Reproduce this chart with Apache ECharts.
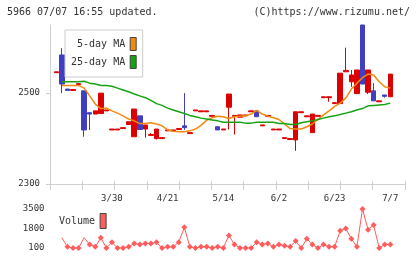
<!DOCTYPE html>
<html>
<head>
<meta charset="utf-8">
<script src="https://cdn.jsdelivr.net/npm/echarts@6/dist/echarts.min.js"></script>
<style>
  html, body { margin: 0; padding: 0; background: #fff; }
  #chart { width: 420px; height: 259px; }
</style>
</head>
<body>
<div id="chart"></div>
<script>
// trading days shown (only labelled every 10th)
const dates = [
  '3/13','3/16','3/17','3/18','3/19','3/23','3/24','3/25','3/26','3/27',
  '3/30','3/31','4/2','4/3','4/6','4/8','4/10','4/14','4/15','4/17',
  '4/21','4/22','4/24','4/27','4/28','4/30','5/1','5/7','5/8','5/12',
  '5/14','5/15','5/18','5/19','5/20','5/22','5/25','5/26','5/28','5/29',
  '6/2','6/3','6/5','6/8','6/10','6/11','6/15','6/17','6/18','6/22',
  '6/23','6/24','6/25','6/26','6/29','6/30','7/1','7/2','7/3','7/6','7/7'
];
const open = [
  2545,2584,2509,2506,2519,2505,2457,2454,2455,2461,
  2419,2419,2422,2431,2404,2450,2421,2407,2400,2400,
  2417,2417,2420,2428,2411,2461,2459,2459,2449,2426,
  2419,2469,2449,2447,2450,2459,2461,2428,2449,2419,
  2419,2400,2398,2397,2457,2448,2413,2449,2490,2490,
  2477,2477,2547,2525,2499,2650,2502,2505,2481,2496,2492
];
const close = [
  2547,2520,2506,2508,2521,2419,2454,2461,2500,2463,
  2421,2421,2424,2437,2465,2420,2430,2409,2421,2402,
  2419,2419,2422,2424,2413,2463,2461,2461,2451,2419,
  2421,2498,2451,2452,2452,2461,2448,2430,2451,2421,
  2421,2402,2400,2459,2459,2450,2454,2451,2492,2492,
  2479,2544,2550,2540,2551,2520,2551,2483,2483,2493,2542
];
const low = [
  2545,2500,2506,2506,2519,2404,2419,2454,2455,2461,
  2419,2419,2422,2431,2404,2420,2402,2407,2398,2400,
  2417,2417,2420,2419,2411,2461,2459,2459,2449,2419,
  2419,2420,2409,2447,2450,2459,2448,2428,2449,2419,
  2419,2400,2398,2373,2457,2448,2413,2449,2490,2481,
  2477,2477,2547,2514,2499,2520,2498,2483,2481,2490,2492
];
const high = [
  2547,2599,2509,2508,2521,2505,2457,2461,2500,2463,
  2421,2421,2424,2437,2465,2450,2430,2412,2421,2402,
  2419,2419,2422,2500,2413,2463,2461,2461,2451,2426,
  2421,2498,2451,2452,2452,2461,2461,2430,2451,2421,
  2421,2402,2400,2459,2459,2450,2454,2451,2492,2492,
  2479,2544,2600,2551,2551,2650,2551,2522,2483,2496,2542
];
const ma5 = [
  null,2517,2517,2517,2517,2511,2494,2476,2466,2467,
  2461,2456,2450,2443,2439,2433,2433,2435,2432,2428,
  2419,2416,2415,2415,2417,2421,2429,2440,2446,2449,
  2448,2444,2448,2449,2450,2454,2462,2454,2449,2446,
  2442,2432,2422,2421,2421,2426,2432,2442,2452,2461,
  2471,2478,2489,2509,2522,2534,2542,2540,2525,2514,2511
];
const ma25 = [
  null,2525,2525,2525,2525,2526,2522,2520,2517,2517,
  2515,2511,2507,2503,2498,2494,2490,2484,2477,2473,
  2467,2463,2459,2455,2451,2448,2445,2443,2441,2439,
  2436,2436,2436,2436,2434,2434,2436,2436,2436,2436,
  2433,2433,2431,2431,2435,2437,2439,2442,2445,2448,
  2450,2453,2456,2459,2463,2466,2472,2473,2474,2475,2478
];
const volume = [
  null,1000,200,100,100,1000,400,200,1000,100,
  600,100,100,200,500,400,500,500,600,100,
  200,200,600,1900,200,100,200,200,100,200,
  100,1200,400,100,100,100,600,400,500,200,
  400,300,200,700,100,900,400,100,400,200,
  200,1600,1800,900,200,3500,1700,2100,100,400,400
];
const offScaleVol = [1, 5];   // days whose marker is not drawn
const priceRange = [2300, 2650];
const priceTicks = [2300, 2500];
const volRange = [100, 3500];
const volTicks = [100, 1800, 3500];

const RED = '#dd0000';
const BLUE = '#3f3fbf';
const ORANGE = '#f08a10';
const GREEN = '#15a315';
const VOLC = '#ff5c5c';
const AXIS = '#cfcfcf';
const TXT = '#333';
const FONT = '"DejaVu Sans Mono", monospace';

const candles = dates.map((d, i) => [open[i], close[i], low[i], high[i]]);
const volData = volume.map((v, i) =>
  offScaleVol.includes(i) ? { value: v, symbol: 'none' } : v);

const chart = echarts.init(document.getElementById('chart'));
chart.setOption({
  animation: false,
  backgroundColor: '#fff',
  title: [
    { text: '5966 07/07 16:55 updated.', left: 7, top: 7, padding: 0,
      textStyle: { fontSize: 10, fontWeight: 'normal', fontFamily: FONT, color: TXT } },
    { text: '(C)https://www.rizumu.net/', right: 10, top: 7, padding: 0,
      textStyle: { fontSize: 10, fontWeight: 'normal', fontFamily: FONT, color: TXT } }
  ],
  legend: [
    {
      data: ['5-day MA', '25-day MA'],
      orient: 'vertical', align: 'right',
      left: 65, top: 30, padding: [7, 6, 8, 6],
      itemWidth: 6, itemHeight: 13, itemGap: 4,
      icon: 'rect', selectedMode: false,
      borderColor: '#ccc', borderWidth: 1, backgroundColor: '#fff',
      itemStyle: { borderColor: '#444', borderWidth: 1 },
      textStyle: { fontSize: 10, fontFamily: FONT, color: TXT },
      z: 20
    },
    {
      data: ['Volume'],
      align: 'right', left: 59, top: 213, padding: 0,
      itemWidth: 6, itemHeight: 15,
      icon: 'rect', selectedMode: false,
      itemStyle: { borderColor: '#444', borderWidth: 1 },
      textStyle: { fontSize: 10, fontFamily: FONT, color: TXT }
    }
  ],
  grid: [
    { left: 50, right: 15, top: 25, bottom: 75 },      // frame
    { left: 53.5, right: 26.9, top: 25, bottom: 75 },  // prices
    { left: 53.5, right: 26.9, top: 209, bottom: 11 }  // volume
  ],
  xAxis: [
    { type: 'value', gridIndex: 0, position: 'bottom', min: 0, max: 11, interval: 1,
      axisLine: { lineStyle: { color: AXIS } },
      axisTick: { length: 6, lineStyle: { color: AXIS } },
      axisLabel: { show: false }, splitLine: { show: false } },
    { type: 'value', gridIndex: 0, position: 'bottom', min: 0, max: 11, interval: 1,
      axisLine: { show: false },
      axisTick: { inside: true, length: 3, lineStyle: { color: AXIS } },
      axisLabel: { show: false }, splitLine: { show: false } },
    { type: 'category', gridIndex: 1, data: dates, boundaryGap: true,
      axisLine: { show: false }, axisTick: { show: false },
      axisLabel: { interval: (i) => i > 0 && i % 10 === 0, margin: 10,
        fontSize: 9, fontFamily: FONT, color: TXT } },
    { type: 'category', gridIndex: 2, data: dates, boundaryGap: true, show: false }
  ],
  yAxis: [
    { type: 'value', gridIndex: 0, min: priceRange[0], max: priceRange[1],
      axisLine: { show: true, lineStyle: { color: AXIS } },
      axisTick: { show: true, length: 4, customValues: priceTicks, lineStyle: { color: AXIS } },
      axisLabel: { margin: 10, fontSize: 9, fontFamily: FONT, color: TXT,
        customValues: priceTicks, formatter: (v) => String(v) },
      splitLine: { show: false } },
    { type: 'value', gridIndex: 1, min: priceRange[0], max: priceRange[1], show: false,
      splitLine: { show: false } },
    { type: 'value', gridIndex: 2, min: volRange[0], max: volRange[1],
      axisLine: { show: false }, axisTick: { show: false },
      axisLabel: { margin: 9, fontSize: 9, fontFamily: FONT, color: TXT,
        customValues: volTicks, formatter: (v) => String(v) },
      splitLine: { show: false } }
  ],
  series: [
    {
      name: 'price', type: 'candlestick',
      xAxisIndex: 2, yAxisIndex: 1,
      barWidth: 5,
      itemStyle: { color: RED, color0: BLUE, borderColor: RED, borderColor0: BLUE, borderWidth: 1 },
      data: candles
    },
    {
      name: '5-day MA', type: 'line',
      xAxisIndex: 2, yAxisIndex: 1,
      symbol: 'none',
      itemStyle: { color: ORANGE },
      lineStyle: { color: ORANGE, width: 1.5 },
      data: ma5
    },
    {
      name: '25-day MA', type: 'line',
      xAxisIndex: 2, yAxisIndex: 1,
      symbol: 'none',
      itemStyle: { color: GREEN },
      lineStyle: { color: GREEN, width: 1.5 },
      data: ma25
    },
    {
      name: 'Volume', type: 'line',
      xAxisIndex: 3, yAxisIndex: 2,
      symbol: 'diamond', symbolSize: 6, showAllSymbol: true,
      itemStyle: { color: VOLC },
      lineStyle: { color: VOLC, width: 1 },
      data: volData
    }
  ]
});
</script>
</body>
</html>
